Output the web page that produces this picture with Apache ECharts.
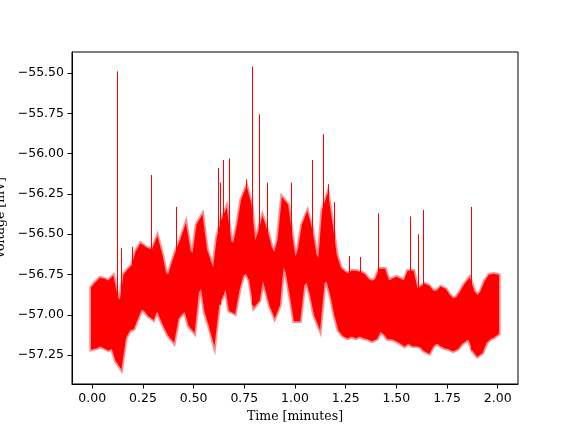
<!DOCTYPE html>
<html><head><meta charset="utf-8">
<script src="https://cdn.jsdelivr.net/npm/echarts@6/dist/echarts.min.js"></script>
<style>html,body{margin:0;padding:0;background:#fff}#c{width:576px;height:432px}</style>
</head><body><div id="c"></div>
<script>
// Sample times (minutes)
const times = [0.00,0.02,0.04,0.06,0.08,0.10,0.12,0.14,0.16,0.18,0.20,0.22,0.24,0.26,0.28,0.30,0.32,0.34,0.36,0.38,
0.40,0.42,0.44,0.46,0.48,0.50,0.52,0.54,0.56,0.58,0.60,0.62,0.64,0.66,0.68,0.70,0.72,0.74,0.76,0.78,
0.80,0.82,0.84,0.86,0.88,0.90,0.92,0.94,0.96,0.98,1.00,1.02,1.04,1.06,1.08,1.10,1.12,1.14,1.16,1.18,
1.20,1.22,1.24,1.26,1.28,1.30,1.32,1.34,1.36,1.38,1.40,1.42,1.44,1.46,1.48,1.50,1.52,1.54,1.56,1.58,
1.60,1.62,1.64,1.66,1.68,1.70,1.72,1.74,1.76,1.78,1.80,1.82,1.84,1.86,1.88,1.90,1.92,1.94,1.96,1.98,2.00];
// Upper edge of the noisy trace (mV)
const bandHigh = [-56.834,-56.803,-56.778,-56.784,-56.797,-56.772,-56.890,-56.927,-56.753,-56.722,
-56.697,-56.610,-56.567,-56.586,-56.598,-56.598,-56.536,-56.629,-56.753,-56.753,
-56.672,-56.598,-56.536,-56.462,-56.610,-56.629,-56.443,-56.400,-56.598,-56.672,
-56.735,-56.524,-56.424,-56.362,-56.548,-56.567,-56.443,-56.288,-56.226,-56.319,
-56.567,-56.505,-56.412,-56.486,-56.586,-56.629,-56.536,-56.288,-56.319,-56.505,
-56.672,-56.598,-56.443,-56.381,-56.474,-56.629,-56.672,-56.350,-56.275,-56.443,
-56.629,-56.710,-56.735,-56.753,-56.735,-56.735,-56.741,-56.753,-56.784,-56.797,
-56.784,-56.722,-56.722,-56.797,-56.784,-56.772,-56.784,-56.797,-56.735,-56.735,
-56.846,-56.834,-56.815,-56.828,-56.859,-56.859,-56.834,-56.846,-56.883,-56.908,
-56.896,-56.859,-56.815,-56.784,-56.859,-56.890,-56.859,-56.797,-56.759,-56.753,-56.759];
// Lower edge of the noisy trace (mV)
const bandLow = [-57.206,-57.200,-57.187,-57.200,-57.212,-57.200,-57.280,-57.318,-57.144,-57.094,
-57.082,-57.020,-56.958,-56.970,-57.001,-57.020,-56.958,-57.020,-57.076,-57.125,
-57.156,-57.020,-56.989,-56.970,-57.063,-57.094,-56.859,-56.815,-56.983,-57.063,
-57.156,-56.939,-56.877,-56.815,-56.970,-56.983,-56.846,-56.753,-56.735,-56.784,
-56.939,-56.908,-56.753,-56.846,-56.939,-57.001,-56.939,-56.672,-56.735,-56.877,
-57.032,-57.032,-56.815,-56.784,-56.877,-57.001,-57.063,-56.797,-56.784,-56.877,
-57.001,-57.094,-57.125,-57.138,-57.125,-57.138,-57.125,-57.138,-57.144,-57.156,
-57.144,-57.094,-57.113,-57.144,-57.144,-57.156,-57.169,-57.187,-57.169,-57.187,
-57.187,-57.194,-57.218,-57.231,-57.187,-57.169,-57.187,-57.200,-57.206,-57.218,
-57.206,-57.175,-57.156,-57.144,-57.218,-57.249,-57.231,-57.169,-57.144,-57.132,-57.113];
// Isolated upward spikes
const spikeTimes = [0.123,0.143,0.194,0.288,0.414,0.622,0.629,0.645,0.676,0.757,0.790,0.824,0.863,0.979,
1.085,1.140,1.161,1.194,1.268,1.321,1.411,1.569,1.607,1.633,1.870];
const spikePeaks = [-55.49,-56.586,-56.578,-56.133,-56.33,-56.09,-56.18,-56.04,-56.03,-56.16,-55.46,-55.756,-56.18,-56.18,
-56.04,-55.88,-56.19,-56.30,-56.635,-56.641,-56.37,-56.39,-56.50,-56.35,-56.33];
const xTicks = [0,0.25,0.5,0.75,1.0,1.25,1.5,1.75,2.0];
const yTicks = [-57.25,-57.0,-56.75,-56.5,-56.25,-56.0,-55.75,-55.5];

const bandData = times.map((t,i)=>[t,bandLow[i],bandHigh[i]]);
const spikeData = spikeTimes.map((t,i)=>{
  const k = Math.round(t/0.02);
  return [t, spikePeaks[i], bandLow[k]];
});

const RED = '#ff0000';
const fmt = v => v.toFixed(2).replace('-', '\u2212');
const tickFont = {fontFamily:'DejaVu Sans', fontSize:12.5, color:'#000'};

const chart = echarts.init(document.getElementById('c'), null, {renderer:'canvas'});
chart.setOption({
  animation:false,
  backgroundColor:'#fff',
  grid:{left:72, right:58, top:52, bottom:48, containLabel:false, outerBoundsMode:'none',
        show:true, borderColor:'#000', borderWidth:1, backgroundColor:'transparent'},
  xAxis:{type:'value', min:-0.1, max:2.1,
    name:'Time [minutes]', nameLocation:'middle', nameGap:25,
    nameTextStyle:{fontFamily:'DejaVu Serif', fontSize:12.5, color:'#000'},
    axisLine:{show:true, onZero:false, lineStyle:{color:'#000', width:1}},
    axisTick:{show:true, length:4.5, lineStyle:{color:'#000', width:1}, customValues:xTicks},
    axisLabel:Object.assign({margin:8, customValues:xTicks, formatter:fmt}, tickFont),
    splitLine:{show:false}},
  yAxis:{type:'value', min:-57.429, max:-55.370,
    name:'Voltage [mV]', nameLocation:'middle', nameGap:64, nameRotate:90,
    nameTextStyle:{fontFamily:'DejaVu Serif', fontSize:12.5, color:'#000'},
    axisLine:{show:true, onZero:false, lineStyle:{color:'#000', width:1}},
    axisTick:{show:true, length:4.5, lineStyle:{color:'#000', width:1}, customValues:yTicks},
    axisLabel:Object.assign({margin:8, customValues:yTicks, formatter:fmt}, tickFont),
    splitLine:{show:false}},
  series:[
    {type:'custom', name:'band', data:bandData, encode:{x:0, y:[1,2]}, clip:true, silent:true,
     renderItem:function(params, api){
       if (params.dataIndex !== 0) return null;
       const pts = [];
       for (let i=0;i<times.length;i++) pts.push(api.coord([times[i], bandLow[i]]));
       for (let i=times.length-1;i>=0;i--) pts.push(api.coord([times[i], bandHigh[i]]));
       return {type:'group', children:[
         {type:'polygon', shape:{points:pts}, style:{fill:RED, stroke:'rgba(255,0,0,0.45)', lineWidth:6, lineJoin:'miter'}},
         {type:'polygon', shape:{points:pts}, style:{fill:RED, stroke:RED, lineWidth:2.5, lineJoin:'miter'}}
       ]};
     }},
    {type:'custom', name:'spikes', data:spikeData, encode:{x:0, y:[1,2]}, clip:true, silent:true,
     renderItem:function(params, api){
       const a = api.coord([api.value(0), api.value(2)]);
       const b = api.coord([api.value(0), api.value(1)]);
       const x = Math.round(a[0]) + 0.5;
       return {type:'line', shape:{x1:x, y1:a[1], x2:x, y2:b[1]}, style:{stroke:RED, lineWidth:1}};
     }}
  ]
});
</script></body></html>
